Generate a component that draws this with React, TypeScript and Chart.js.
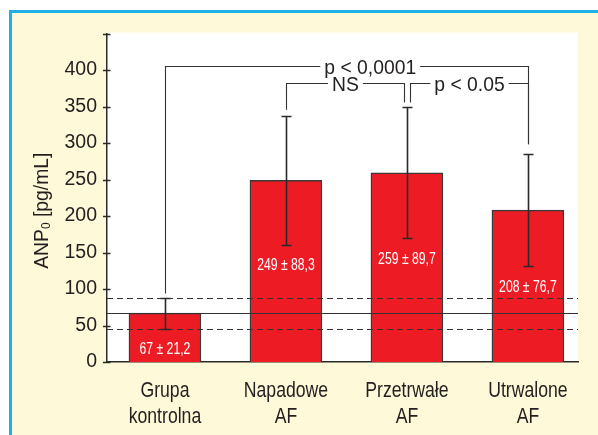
import React, { useEffect, useRef } from "react";
import { Chart, registerables } from "chart.js";

Chart.register(...registerables);

const categories: string[][] = [
  ["Grupa", "kontrolna"],
  ["Napadowe", "AF"],
  ["Przetrwałe", "AF"],
  ["Utrwalone", "AF"],
];
const means = [67, 249, 259, 208];
const sds = [21.2, 88.3, 89.7, 76.7];
const valueLabels = ["67 ± 21,2", "249 ± 88,3", "259 ± 89,7", "208 ± 76,7"];
const yTickValues = [0, 50, 100, 150, 200, 250, 300, 350, 400, 450];
const yLabelMax = 400;

const brackets = [
  { from: 0, to: 3, level: 405, text: "p < 0,0001", textAt: 0.564, offFrom: 0, offTo: 0, gapFrom: 4, gapTo: 10 },
  { from: 1, to: 2, level: 382, text: "NS", textAt: 0.5, offFrom: 0, offTo: -3, gapFrom: 6, gapTo: 5 },
  { from: 2, to: 3, level: 382, text: "p < 0.05", textAt: 0.5, offFrom: 3, offTo: 0, gapFrom: 5, gapTo: 10 },
];

const SANS = "'Liberation Sans', Arial, sans-serif";
const INK = "#231F20";
const RED = "#ED1C24";
const YELLOW = "#FEF9D8";
const CYAN = "#1EB1E7";

// draw horizontally condensed text (narrow face look)
function narrowText(ctx: CanvasRenderingContext2D, text: string, x: number, y: number, squeeze: number, align: "center" | "left") {
  ctx.save();
  ctx.translate(x, y);
  ctx.scale(squeeze, 1);
  ctx.textAlign = align;
  ctx.fillText(text, 0, 0);
  ctx.restore();
}

export default function App() {
  const ref = useRef<HTMLCanvasElement | null>(null);

  useEffect(() => {
    document.body.style.margin = "0";
    const canvas = ref.current;
    if (!canvas) return;

    const framePlugin = {
      id: "frame",
      beforeDraw(chart: any) {
        const { ctx, chartArea, width, height } = chart;
        ctx.save();
        ctx.fillStyle = "#ffffff";
        ctx.fillRect(0, 0, width, height);
        ctx.fillStyle = YELLOW;
        ctx.fillRect(12, 12, width - 12, height - 12);
        ctx.fillStyle = CYAN;
        ctx.fillRect(9, 10, width - 9, 3);
        ctx.fillRect(9, 10, 3, height - 10);
        ctx.fillStyle = "#ffffff";
        ctx.fillRect(chartArea.left, chartArea.top - 1, chartArea.right - chartArea.left, chartArea.bottom - chartArea.top + 1);
        ctx.restore();
      },
    };

    const overlayPlugin = {
      id: "overlay",
      afterDatasetsDraw(chart: any) {
        const { ctx, chartArea, scales } = chart;
        const x = scales.x;
        const y = scales.y;
        ctx.save();
        // reference lines (control group mean ± SD)
        ctx.strokeStyle = "#333";
        ctx.lineWidth = 1.2;
        const refY = [means[0] - sds[0], means[0], means[0] + sds[0]];
        refY.forEach((v, k) => {
          ctx.setLineDash(k === 1 ? [] : [6, 4]);
          const py = Math.round(y.getPixelForValue(v)) + 0.5;
          ctx.beginPath();
          ctx.moveTo(chartArea.left, py);
          ctx.lineTo(chartArea.right, py);
          ctx.stroke();
        });
        ctx.setLineDash([]);

        // error bars
        ctx.strokeStyle = "#2a2a2a";
        ctx.lineWidth = 1.6;
        means.forEach((m, i) => {
          const cx = Math.round(x.getPixelForValue(i)) + 0.5;
          const t = Math.round(y.getPixelForValue(m + sds[i])) + 0.5;
          const b = Math.round(y.getPixelForValue(m - sds[i])) + 0.5;
          ctx.beginPath();
          ctx.moveTo(cx, t);
          ctx.lineTo(cx, b);
          ctx.moveTo(cx - 5, t);
          ctx.lineTo(cx + 5, t);
          ctx.moveTo(cx - 5, b);
          ctx.lineTo(cx + 5, b);
          ctx.stroke();
        });

        // value labels
        ctx.fillStyle = "#ffffff";
        ctx.font = `16.5px ${SANS}`;
        ctx.textBaseline = "middle";
        means.forEach((m, i) => {
          const cx = x.getPixelForValue(i);
          const b = y.getPixelForValue(m - sds[i]);
          narrowText(ctx, valueLabels[i], cx, b + 21, 0.74, "center");
        });

        // significance brackets
        ctx.strokeStyle = "#333";
        ctx.lineWidth = 1.1;
        ctx.fillStyle = INK;
        ctx.font = `21px ${SANS}`;
        ctx.textBaseline = "alphabetic";
        const sq = 0.92;
        brackets.forEach((br) => {
          const x1 = Math.round(x.getPixelForValue(br.from) + br.offFrom) + 0.5;
          const x2 = Math.round(x.getPixelForValue(br.to) + br.offTo) + 0.5;
          const ly = Math.round(y.getPixelForValue(br.level)) + 0.5;
          const b1 = y.getPixelForValue(means[br.from] + sds[br.from]) - br.gapFrom;
          const b2 = y.getPixelForValue(means[br.to] + sds[br.to]) - br.gapTo;
          const tx = x1 + (x2 - x1) * br.textAt;
          const tw = ctx.measureText(br.text).width * sq;
          ctx.beginPath();
          ctx.moveTo(x1, b1);
          ctx.lineTo(x1, ly);
          ctx.lineTo(tx - tw / 2 - 4, ly);
          ctx.moveTo(tx + tw / 2 + 4, ly);
          ctx.lineTo(x2, ly);
          ctx.lineTo(x2, b2);
          ctx.stroke();
          narrowText(ctx, br.text, tx, ly + 7.5, sq, "center");
        });
        ctx.restore();
      },
      afterDraw(chart: any) {
        const { ctx, chartArea, scales } = chart;
        const x = scales.x;
        const y = scales.y;
        ctx.save();
        // y tick marks crossing the axis
        ctx.strokeStyle = "#2a2a2a";
        ctx.lineWidth = 1.5;
        yTickValues.forEach((v) => {
          const py = Math.round(y.getPixelForValue(v)) + 0.5;
          ctx.beginPath();
          ctx.moveTo(chartArea.left - 4, py);
          ctx.lineTo(chartArea.left + 3.5, py);
          ctx.stroke();
        });
        // category labels
        ctx.fillStyle = INK;
        ctx.font = `21.5px ${SANS}`;
        ctx.textBaseline = "alphabetic";
        categories.forEach((lines, i) => {
          const cx = x.getPixelForValue(i);
          lines.forEach((ln, k) => {
            narrowText(ctx, ln, cx, chartArea.bottom + 35 + k * 26, 0.82, "center");
          });
        });
        // y axis title with subscript
        ctx.translate(chartArea.left - 59, (chartArea.top + chartArea.bottom) / 2 + 13);
        ctx.rotate(-Math.PI / 2);
        ctx.scale(0.92, 1);
        ctx.textAlign = "left";
        const big = `21px ${SANS}`;
        const small = `13px ${SANS}`;
        ctx.font = big;
        const w1 = ctx.measureText("ANP").width;
        const w3 = ctx.measureText(" [pg/mL]").width;
        ctx.font = small;
        const w2 = ctx.measureText("0").width;
        const total = w1 + w2 + w3;
        let cx = -total / 2;
        ctx.font = big;
        ctx.fillText("ANP", cx, 0);
        cx += w1;
        ctx.font = small;
        ctx.fillText("0", cx, 2);
        cx += w2;
        ctx.font = big;
        ctx.fillText(" [pg/mL]", cx, 0);
        ctx.restore();
      },
    };

    const chart = new Chart(canvas, {
      type: "bar",
      data: {
        datasets: [
          {
            data: means.map((m, i) => ({ x: i, y: m })),
            backgroundColor: RED,
            borderColor: "#3a3a3a",
            borderWidth: 1.5,
            barThickness: 72,
          },
        ],
      },
      options: {
        responsive: false,
        animation: false,
        devicePixelRatio: 1,
        layout: { padding: { top: 33.5, right: 20, left: 0, bottom: 0 } },
        plugins: { legend: { display: false }, tooltip: { enabled: false }, title: { display: false } },
        scales: {
          x: {
            type: "linear",
            offset: false,
            min: -0.479,
            max: 3.414,
            grid: { display: false, drawTicks: false },
            border: { display: true, color: "#2a2a2a", width: 1.5 },
            ticks: { display: false },
            afterFit(scale: any) {
              scale.height = 73;
            },
          },
          y: {
            min: 0,
            max: 450,
            grid: { display: false, drawTicks: false },
            border: { display: true, color: "#2a2a2a", width: 1.5 },
            afterBuildTicks(scale: any) {
              scale.ticks = yTickValues.map((v) => ({ value: v }));
            },
            ticks: {
              autoSkip: false,
              padding: 10,
              color: INK,
              font: { family: SANS, size: 19.5 },
              callback: (v: any) => (Number(v) > yLabelMax ? "" : String(v)),
            },
            afterFit(scale: any) {
              scale.width = 107;
            },
          },
        },
      },
      plugins: [framePlugin, overlayPlugin],
    } as any);

    return () => chart.destroy();
  }, []);

  return <canvas ref={ref} width={598} height={435} style={{ display: "block" }} />;
}
